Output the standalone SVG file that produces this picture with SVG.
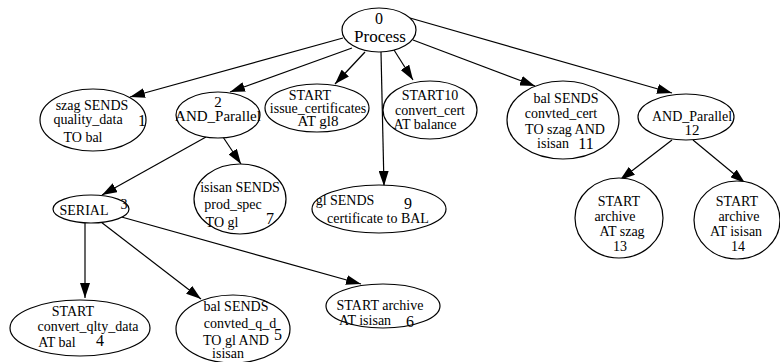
<svg xmlns="http://www.w3.org/2000/svg" width="780" height="362" viewBox="0 0 780 362">
<style>
.n ellipse{fill:#fff;stroke:#000;stroke-width:1.2}
.t text{fill:#000;text-anchor:middle}
.e line{stroke:#000;stroke-width:1.2;marker-end:url(#arr)}
</style>
<defs>
<marker id="arr" markerUnits="userSpaceOnUse" markerWidth="15" markerHeight="10" refX="15" refY="5" orient="auto">
<path d="M0,0 L15,5 L0,10 z" fill="#000"/>
</marker>
</defs>
<rect width="780" height="362" fill="#fff"/>
<g class="e" id="edges">
<line x1="343" y1="38" x2="130" y2="97"/>
<line x1="352" y1="48" x2="230" y2="92"/>
<line x1="365" y1="52" x2="335" y2="84"/>
<line x1="381" y1="52" x2="384" y2="186"/>
<line x1="394" y1="50" x2="413" y2="80"/>
<line x1="413" y1="40" x2="535" y2="86"/>
<line x1="403" y1="16" x2="672" y2="93"/>
<line x1="206" y1="137" x2="102" y2="195"/>
<line x1="223" y1="137" x2="241" y2="164"/>
<line x1="85" y1="223" x2="85" y2="298"/>
<line x1="101" y1="222" x2="201" y2="299"/>
<line x1="118" y1="216" x2="361" y2="284"/>
<line x1="672" y1="140" x2="620" y2="180"/>
<line x1="693" y1="140" x2="745" y2="183"/>
</g>
<g class="t" font-family="'Liberation Serif', 'Times New Roman', serif" font-size="14">
<g class="n" id="n0"><ellipse cx="379" cy="30" rx="37" ry="22"/><text x="379" y="24" font-size="16">0</text><text x="380" y="42" font-size="17">Process</text></g>
<g class="n" id="n1"><ellipse cx="93" cy="120" rx="53" ry="31"/><text x="92" y="110">szag SENDS</text><text x="88" y="124">quality_data</text><text x="83" y="142">TO bal</text><text x="142" y="126" font-size="16">1</text></g>
<g class="n" id="n2"><ellipse cx="218" cy="115" rx="42" ry="23"/><text x="218" y="107" font-size="15">2</text><text x="218" y="121" font-size="15">AND_Parallel</text></g>
<g class="n" id="n8"><ellipse cx="317" cy="108" rx="52" ry="24"/><text x="310" y="100">START</text><text x="318" y="113">issue_certificates</text><text x="318" y="126" font-size="15">AT gl8</text></g>
<g class="n" id="n10"><ellipse cx="430" cy="110" rx="47" ry="29"/><text x="430" y="100">START10</text><text x="430" y="115">convert_cert</text><text x="425" y="129">AT balance</text></g>
<g class="n" id="n11"><ellipse cx="563" cy="120" rx="56" ry="39"/><text x="566" y="103">bal SENDS</text><text x="561" y="118">convted_cert</text><text x="565" y="134">TO szag AND</text><text x="553" y="148">isisan</text><text x="586" y="149" font-size="16">11</text></g>
<g class="n" id="n12"><ellipse cx="686" cy="117" rx="48" ry="23"/><text x="692" y="121">AND_Parallel</text><text x="692" y="135" font-size="15">12</text></g>
<g class="n" id="n3"><ellipse cx="91" cy="209" rx="38" ry="14"/><text x="84" y="215">SERIAL</text><text x="124" y="209">3</text></g>
<g class="n" id="n7"><ellipse cx="240" cy="199" rx="46" ry="35"/><text x="240" y="192">isisan SENDS</text><text x="233" y="209">prod_spec</text><text x="222" y="227">TO gl</text><text x="270" y="224" font-size="16">7</text></g>
<g class="n" id="n9"><ellipse cx="379" cy="209" rx="67" ry="24"/><text x="345" y="205">gl SENDS</text><text x="408" y="209" font-size="16">9</text><text x="378" y="223">certificate to BAL</text></g>
<g class="n" id="n13"><ellipse cx="619" cy="218" rx="44" ry="40"/><text x="619" y="206">START</text><text x="615" y="221">archive</text><text x="622" y="236">AT szag</text><text x="620" y="251">13</text></g>
<g class="n" id="n14"><ellipse cx="737" cy="220" rx="43" ry="39"/><text x="737" y="206">START</text><text x="739" y="221">archive</text><text x="736" y="236">AT isisan</text><text x="738" y="251">14</text></g>
<g class="n" id="n4"><ellipse cx="80" cy="328" rx="70" ry="28"/><text x="73" y="316">START</text><text x="88" y="331">convert_qlty_data</text><text x="57" y="347">AT bal</text><text x="100" y="346" font-size="16">4</text></g>
<g class="n" id="n5"><ellipse cx="233" cy="329" rx="57" ry="34"/><text x="236" y="311">bal SENDS</text><text x="240" y="328">convted_q_d</text><text x="278" y="340" font-size="16">5</text><text x="236" y="345">TO gl AND</text><text x="228" y="358">isisan</text></g>
<g class="n" id="n6"><ellipse cx="383" cy="306" rx="57" ry="22"/><text x="380" y="310">START archive</text><text x="365" y="325">AT isisan</text><text x="410" y="327" font-size="16">6</text></g>
</g>
</svg>
